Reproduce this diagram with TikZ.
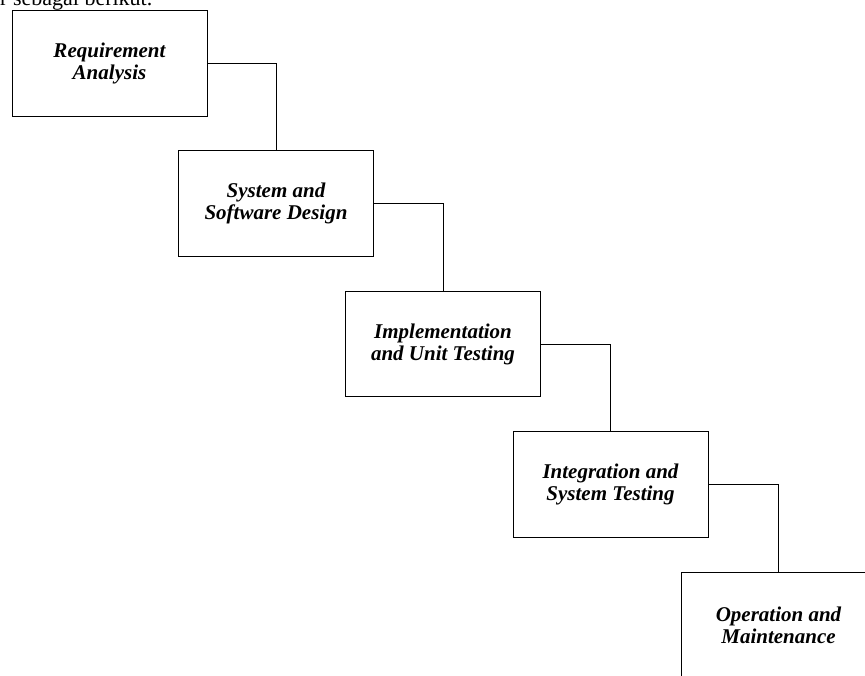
\documentclass[tikz,border=0pt]{standalone}
\usepackage{fontspec}
\setmainfont{Liberation Serif}
\begin{document}
\begin{tikzpicture}[x=1pt,y=-1pt,
  stage/.style={draw=black,line width=0.9pt,minimum width=195pt,minimum height=105.5pt,
    inner sep=0pt,align=center,font=\fontsize{21}{22}\selectfont\bfseries\itshape},
  link/.style={draw=black,line width=0.9pt}]
\useasboundingbox (0,0) rectangle (865,675);
\clip (0,0) rectangle (865,675);
\node[anchor=base west,font=\fontsize{22}{24}\selectfont,inner sep=0pt] (intro) at (0,5.5) {r sebagai berikut.};
\node[stage] (s1) at (109.5,63.25) {Requirement\\Analysis};
\node[stage] (s2) at (276,203.25) {System and\\Software Design};
\node[stage] (s3) at (443,344) {Implementation\\and Unit Testing};
\node[stage] (s4) at (610.5,484.5) {Integration and\\System Testing};
\node[stage] (s5) at (778.5,625.5) {Operation and\\Maintenance};
\draw[link] (s1.east) -| (s2.north);
\draw[link] (s2.east) -| (s3.north);
\draw[link] (s3.east) -| (s4.north);
\draw[link] (s4.east) -| (s5.north);
\end{tikzpicture}
\end{document}
